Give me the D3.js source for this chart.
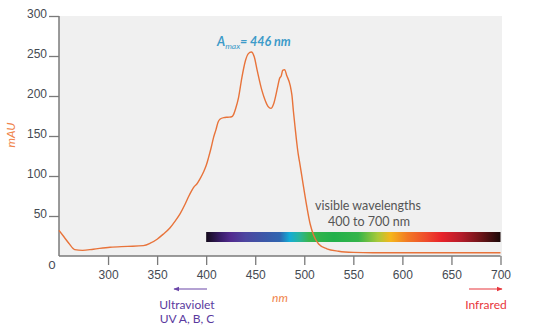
<!DOCTYPE html>
<html>
<head>
<meta charset="utf-8">
<script src="https://cdn.jsdelivr.net/npm/d3@7"></script>
<style>
  html, body { margin: 0; padding: 0; background: #fff; }
  svg { display: block; font-family: "Lato", "Noto Sans", sans-serif; }
</style>
</head>
<body>
<svg id="chart" width="534" height="329"></svg>
<script>
// Absorbance spectrum (wavelength in nm, absorbance in mAU)
const wavelengths = [250, 255, 260, 266, 274, 285, 302, 320, 336, 343, 350, 356, 363, 368, 373.5, 378.6, 382, 385.4, 388, 390.5, 394, 397.3, 400, 402.4, 405, 407.5, 410, 412, 414, 418, 422, 426, 428, 430, 433, 436.4, 440, 443, 446, 449, 452, 456.8, 460, 463, 466, 469, 472.8, 474.8, 476.5, 478, 480, 482, 485.7, 487.4, 489, 490.8, 492.5, 494, 495, 499.3, 502.7, 506, 509.5, 514.6, 523, 535, 550, 570, 600, 650, 700];
const absorbance = [32, 24, 16, 8, 7, 8.5, 11, 12, 13, 16, 21, 27, 35, 43, 53, 65, 74, 82, 87, 90, 97, 105, 113, 123, 135, 148, 158, 167, 171, 173, 173.5, 174, 177, 184, 198, 223, 244, 253, 255, 249, 232, 207, 195, 187, 184.5, 191, 211, 222, 225, 232, 233, 226, 213, 201, 180, 159, 140, 126, 119, 86, 61, 40, 26, 15, 9, 6, 4.5, 4, 4, 4, 4];

const xTicks = [300, 350, 400, 450, 500, 550, 600, 650, 700];
const yTicks = [50, 100, 150, 200, 250, 300];

// Visible spectrum colour stops (nm, colour)
const spectrumNm = [400, 415, 425, 440, 460, 475, 485, 495, 505, 530, 555, 575, 588, 605, 625, 640, 660, 680, 700];
const spectrumColors = ["#140b1c", "#3a1d6a", "#522b8f", "#4d46a0", "#3b58a8", "#3065b0", "#14acd6", "#28b59c", "#3ab54c", "#22b04b", "#34b44a", "#a9c93a", "#f5b61c", "#f27a25", "#ee4a2c", "#e8222a", "#b41c2a", "#6c1418", "#1a0808"];

const svg = d3.select("#chart");
const x = d3.scaleLinear().domain([250, 700]).range([59, 500.5]);
const y = d3.scaleLinear().domain([0, 300]).range([256, 16]);

// Plot background
svg.append("rect")
  .attr("x", x(250)).attr("y", y(300))
  .attr("width", 502 - x(250)).attr("height", y(0) - y(300))
  .attr("fill", "#f0f0f0");

// Visible-light gradient band
const defs = svg.append("defs");
const grad = defs.append("linearGradient").attr("id", "visible")
  .attr("x1", "0%").attr("x2", "100%").attr("y1", "0%").attr("y2", "0%");
spectrumNm.forEach((nm, i) => {
  grad.append("stop")
    .attr("offset", ((nm - 400) / 300 * 100) + "%")
    .attr("stop-color", spectrumColors[i]);
});
svg.append("rect")
  .attr("x", x(400)).attr("y", 232)
  .attr("width", x(700) - x(400)).attr("height", 10)
  .attr("fill", "url(#visible)");

svg.append("text").attr("x", 368).attr("y", 210)
  .attr("text-anchor", "middle").attr("font-size", 12.5).attr("fill", "#555")
  .text("visible wavelengths");
svg.append("text").attr("x", 369).attr("y", 226)
  .attr("text-anchor", "middle").attr("font-size", 12.5).attr("fill", "#555")
  .text("400 to 700 nm");

// Axes
const axisColor = "#7a7a7a";
const yAxis = svg.append("g").attr("transform", `translate(${x(250)},0)`)
  .call(d3.axisLeft(y).tickValues(yTicks).tickSize(10).tickPadding(2));
const xAxis = svg.append("g").attr("transform", `translate(0,${y(0)})`)
  .call(d3.axisBottom(x).tickValues(xTicks).tickSize(9).tickPadding(5));

[yAxis, xAxis].forEach(g => {
  g.select(".domain").attr("stroke", axisColor).attr("stroke-width", 1.5);
  g.selectAll(".tick line").attr("stroke", axisColor).attr("stroke-width", 1.3);
  g.selectAll("text").attr("fill", "#454a52").attr("font-size", 12);
});
yAxis.selectAll(".tick text").attr("dy", "0.1em");
yAxis.select(".domain").attr("d", `M0,${y(300)}V${y(0)}`);
xAxis.select(".domain").attr("d", `M${x(250)},0H${x(700)}`);

svg.append("text").attr("x", 52).attr("y", 269)
  .attr("text-anchor", "middle").attr("font-size", 12).attr("fill", "#454a52")
  .text("0");

// Absorbance curve
const line = d3.line()
  .x((d, i) => x(wavelengths[i]))
  .y(d => y(d))
  .curve(d3.curveMonotoneX);
svg.append("path")
  .datum(absorbance)
  .attr("d", line)
  .attr("fill", "none")
  .attr("stroke", "#e8733a")
  .attr("stroke-width", 1.4);

// Peak annotation
const peak = svg.append("text").attr("x", 217).attr("y", 46)
  .attr("font-size", 12.5).attr("font-style", "italic").attr("font-weight", "bold")
  .attr("fill", "#3d9bc9");
peak.append("tspan").text("A");
peak.append("tspan").attr("font-size", 8.5).attr("font-weight", "normal").attr("dy", 3).text("max");
peak.append("tspan").attr("dy", -3).text("= 446 nm");

// Axis titles
svg.append("text")
  .attr("transform", "translate(15,135) rotate(-90)")
  .attr("text-anchor", "middle").attr("font-size", 12).attr("font-style", "italic")
  .attr("fill", "#f0844a").text("mAU");
svg.append("text").attr("x", 280).attr("y", 302)
  .attr("text-anchor", "middle").attr("font-size", 12).attr("font-style", "italic")
  .attr("fill", "#f0844a").text("nm");

// UV / IR arrows
defs.append("marker").attr("id", "arrowUV").attr("viewBox", "0 0 10 10")
  .attr("refX", 9).attr("refY", 5).attr("markerWidth", 5).attr("markerHeight", 5)
  .attr("orient", "auto-start-reverse")
  .append("path").attr("d", "M0,1L10,5L0,9Z").attr("fill", "#6b46a8");
defs.append("marker").attr("id", "arrowIR").attr("viewBox", "0 0 10 10")
  .attr("refX", 9).attr("refY", 5).attr("markerWidth", 5).attr("markerHeight", 5)
  .attr("orient", "auto")
  .append("path").attr("d", "M0,1L10,5L0,9Z").attr("fill", "#e8363c");

svg.append("line").attr("x1", 207).attr("x2", 174).attr("y1", 289).attr("y2", 289)
  .attr("stroke", "#6b46a8").attr("stroke-width", 1.2).attr("marker-end", "url(#arrowUV)");
svg.append("line").attr("x1", 469).attr("x2", 502).attr("y1", 289).attr("y2", 289)
  .attr("stroke", "#e8363c").attr("stroke-width", 1.2).attr("marker-end", "url(#arrowIR)");

svg.append("text").attr("x", 187).attr("y", 309).attr("text-anchor", "middle")
  .attr("font-size", 12).attr("fill", "#5a3a9e").text("Ultraviolet");
svg.append("text").attr("x", 187).attr("y", 323).attr("text-anchor", "middle")
  .attr("font-size", 12).attr("fill", "#5a3a9e").text("UV A, B, C");
svg.append("text").attr("x", 486).attr("y", 309).attr("text-anchor", "middle")
  .attr("font-size", 12).attr("fill", "#e8363c").text("Infrared");
</script>
</body>
</html>
